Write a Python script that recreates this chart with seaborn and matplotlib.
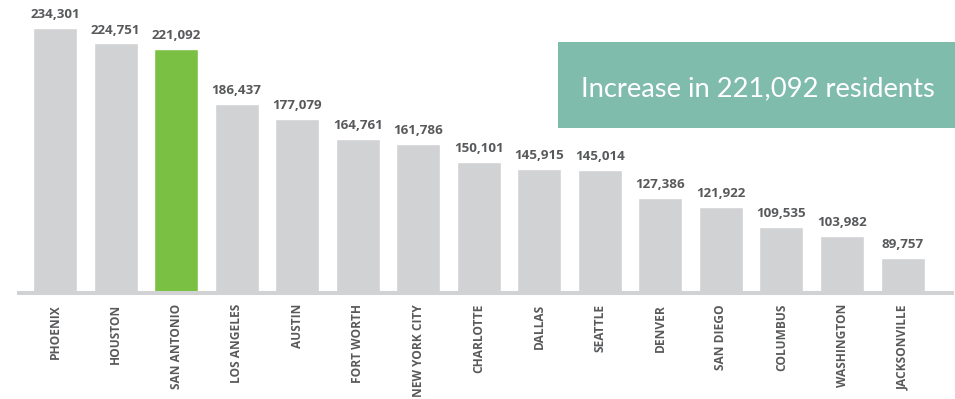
import matplotlib
matplotlib.use("Agg")
import matplotlib.pyplot as plt
from matplotlib.patches import Rectangle
import seaborn as sns
import pandas as pd

cities = ["PHOENIX", "HOUSTON", "SAN ANTONIO", "LOS ANGELES", "AUSTIN", "FORT WORTH",
          "NEW YORK CITY", "CHARLOTTE", "DALLAS", "SEATTLE", "DENVER", "SAN DIEGO",
          "COLUMBUS", "WASHINGTON", "JACKSONVILLE"]
values = [234301, 224751, 221092, 186437, 177079, 164761, 161786, 150101,
          145915, 145014, 127386, 121922, 109535, 103982, 89757]
highlight = "SAN ANTONIO"
callout = "Increase in 221,092 residents"

GRAY = "#d1d2d4"
GREEN = "#7ac143"
TEAL = "#7fbcac"
TXT = "#58595b"

sns.set_style("white")
plt.rcParams["font.family"] = ["Open Sans", "DejaVu Sans"]

df = pd.DataFrame({"city": cities, "value": values})
palette = {c: (GREEN if c == highlight else GRAY) for c in cities}

W, H = 955, 399
fig = plt.figure(figsize=(W / 100, H / 100), dpi=100)
left_px, right_px, bottom_px = 19, 952, 293
ax = fig.add_axes([left_px / W, (H - bottom_px) / H, (right_px - left_px) / W, bottom_px / H])

sns.barplot(data=df, x="city", y="value", hue="city", palette=palette, legend=False,
            width=0.727, saturation=1, ax=ax)

ax.set_xlim(-0.595, 14.817)
ax.set_ylim(67860, 252100)
for s in ["top", "right", "left"]:
    ax.spines[s].set_visible(False)
ax.spines["bottom"].set_color(GRAY)
ax.spines["bottom"].set_linewidth(2.9)
ax.spines["bottom"].set_zorder(5)
ax.set_yticks([])
ax.set_xlabel("")
ax.set_ylabel("")
ax.tick_params(axis="x", length=0, pad=8)
ax.set_xticks(range(len(cities)))
ax.set_xticklabels(cities, rotation=90, ha="center", va="top", fontsize=8.6,
                   fontweight="bold", color=TXT)

for i, v in enumerate(values):
    ax.annotate(f"{v:,}", (i, v), xytext=(0, 5), textcoords="offset points",
                ha="center", va="bottom", fontsize=9.6, fontweight="bold", color=TXT)

x0, x1, y0, y1 = 558, 955, 42, 128
fig.add_artist(Rectangle((x0 / W, (H - y1) / H), (x1 - x0) / W, (y1 - y0) / H,
                         transform=fig.transFigure, facecolor=TEAL, edgecolor="none"))
fig.text((x0 + x1) / 2 / W + 0.002, 1 - 89 / H, callout, ha="center", va="center",
         fontsize=19.7, color="white", fontweight="normal",
         family=["Lato", "Open Sans", "DejaVu Sans"])

fig.savefig("out.png", dpi=100)
